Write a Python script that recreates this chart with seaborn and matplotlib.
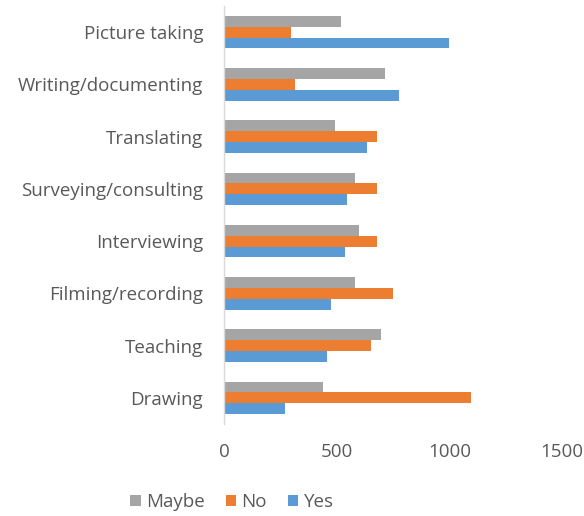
import matplotlib
matplotlib.use("Agg")
import matplotlib.pyplot as plt
import seaborn as sns
import pandas as pd

categories = ["Picture taking", "Writing/documenting", "Translating", "Surveying/consulting",
              "Interviewing", "Filming/recording", "Teaching", "Drawing"]
maybe = [518, 713, 493, 580, 598, 580, 697, 439]
no = [297, 315, 679, 679, 678, 749, 651, 1098]
yes = [997, 777, 633, 544, 537, 473, 457, 271]
series = ["Maybe", "No", "Yes"]
colors = ["#A5A5A5", "#ED7D31", "#5B9BD5"]
xticks = [0, 500, 1000, 1500]

rows = []
for name, vals in zip(series, [maybe, no, yes]):
    for c, v in zip(categories, vals):
        rows.append({"Category": c, "Series": name, "Value": v})
df = pd.DataFrame(rows)

sns.set_theme(style="white")
plt.rcParams["font.family"] = ["Open Sans", "DejaVu Sans"]

fig = plt.figure(figsize=(5.84, 5.16), dpi=100)
ax = fig.add_axes([0.3836, 0.1783, 0.5788, 0.8101])
sns.barplot(data=df, y="Category", x="Value", hue="Series", order=categories,
            hue_order=series, palette=colors, orient="h", width=0.62, gap=0,
            saturation=1, errorbar=None, ax=ax, edgecolor="none", linewidth=0)

ax.set_xlim(0, 1500)
ax.set_xticks(xticks)
ax.set_xticklabels([str(t) for t in xticks])
ax.set_xlabel("")
ax.set_ylabel("")
for s in ["top", "right", "bottom"]:
    ax.spines[s].set_visible(False)
ax.spines["left"].set_color("#D9D9D9")
ax.spines["left"].set_linewidth(1)
ax.tick_params(axis="both", length=0, colors="#595959", labelsize=13.5)
ax.tick_params(axis="x", pad=13.5)
ax.tick_params(axis="y", pad=15)

handles, labels = ax.get_legend_handles_labels()
ax.legend_.remove()
fig.legend(handles, labels, loc="center", bbox_to_anchor=(232 / 584, 1 - 502 / 516),
           ncol=3, frameon=False, fontsize=13.5, labelcolor="#595959",
           handlelength=0.55, handleheight=0.55, handletextpad=0.3, columnspacing=1.1)

fig.savefig("out.png", dpi=100)
